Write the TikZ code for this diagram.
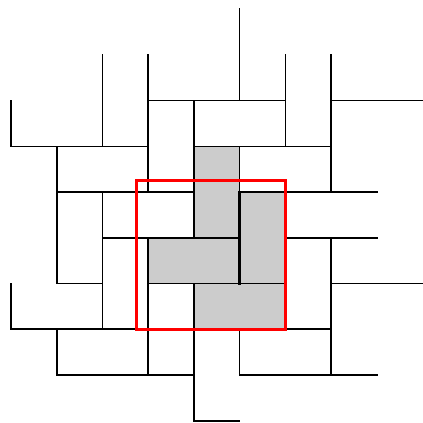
\documentclass[tikz,border=0pt]{standalone}
\usetikzlibrary{calc}
\tikzset{
  wallln/.style={line width=1pt, line cap=rect},
  tileln/.style={fill=gray!40, draw=black, line width=1pt},
  seamln/.style={line width=1.6pt, line cap=rect},
  frameln/.style={draw=red, line width=1.6pt},
}
\newcommand{\tilebox}[4]{%
  \filldraw[tileln] (#1,-#2) rectangle (#3,-#4);
}

\begin{document}
\begin{tikzpicture}
  \useasboundingbox (-0.24,0.2) rectangle (9.005,-9.05);
  % horizontal walls: row/from/to
  \foreach \r/\a/\b in {2/3/6, 2/7/9, 3/0/3, 3/5/7, 4/1/4, 4/6/8, 5/2/4, 5/6/8,
                        6/1/2, 6/7/9, 7/0/3, 7/6/7, 8/1/4, 8/5/8, 9/4/5} {
    \draw[wallln] (\a,-\r) -- (\b,-\r);
  }
  % vertical walls: column/from/to
  \foreach \c/\a/\b in {0/2/3, 0/6/7, 1/3/6, 1/7/8, 2/1/3, 2/4/7, 3/1/4, 3/6/8,
                        4/2/3, 4/7/9, 5/0/2, 5/7/8, 6/1/3, 7/1/4, 7/5/8} {
    \draw[wallln] (\c,-\a) -- (\c,-\b);
  }
  % shaded tiles
  \tilebox{4}{3}{5}{5}
  \tilebox{5}{4}{6}{6}
  \tilebox{3}{5}{5}{6}
  \tilebox{4}{6}{6}{7}
  \draw[seamln] (3,-5) -- (5,-5) -- (5,-6);
  \draw[seamln] (5,-4) -- (5,-5);
  % window
  \draw[frameln] (2.75,-3.75) rectangle (6,-7);
\end{tikzpicture}
\end{document}
